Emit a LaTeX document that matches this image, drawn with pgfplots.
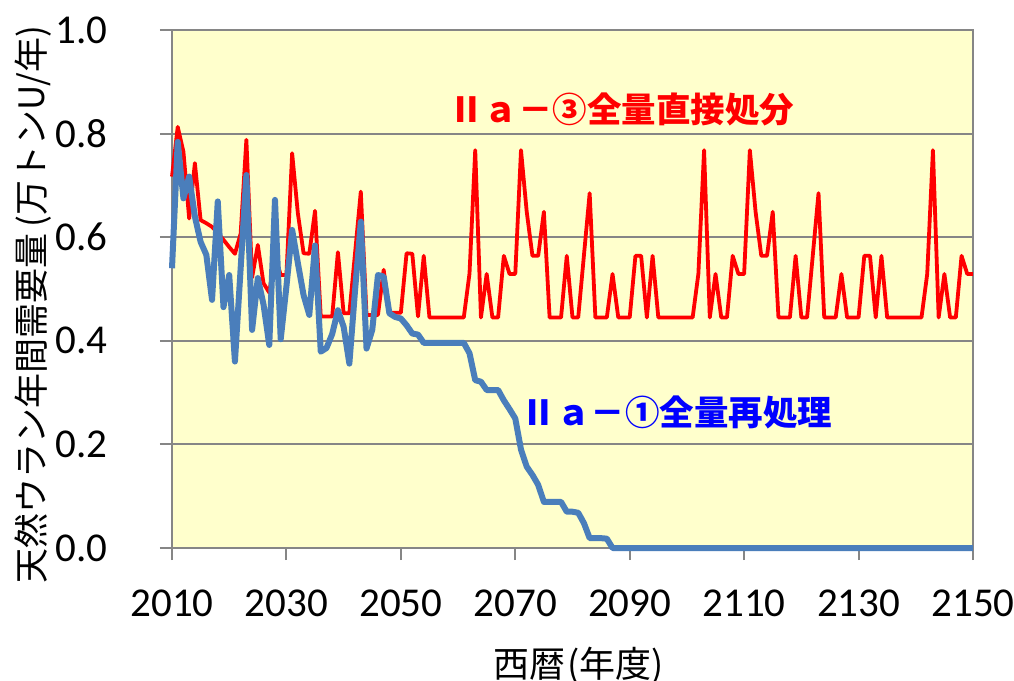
\documentclass[border=0pt]{standalone}
\usepackage{fontspec}
\setmainfont{Carlito}
\newfontfamily\cjk{Noto Sans CJK JP}
\usepackage{pgfplots}
\usepackage{pgfplotstable}
\pgfplotsset{compat=1.18}

\definecolor{bgyellow}{HTML}{FFFFCC}
\definecolor{gridgray}{HTML}{868686}
\definecolor{redline}{HTML}{FF0000}
\definecolor{blueline}{HTML}{4A7EBB}
\definecolor{bluetext}{HTML}{0000FF}

% year, direct disposal (dd), full reprocessing (rp)
\pgfplotstableread{
year dd rp
2010 0.717 0.540
2011 0.813 0.784
2012 0.765 0.675
2013 0.636 0.717
2014 0.743 0.640
2015 0.633 0.591
2016 0.627 0.566
2017 0.620 0.479
2018 0.608 0.669
2019 0.595 0.465
2020 0.581 0.527
2021 0.568 0.360
2022 0.607 0.540
2023 0.788 0.720
2024 0.522 0.421
2025 0.585 0.521
2026 0.511 0.470
2027 0.493 0.392
2028 0.565 0.672
2029 0.527 0.403
2030 0.527 0.505
2031 0.762 0.614
2032 0.646 0.550
2033 0.569 0.488
2034 0.568 0.450
2035 0.651 0.584
2036 0.447 0.379
2037 0.447 0.386
2038 0.447 0.413
2039 0.571 0.459
2040 0.453 0.427
2041 0.453 0.356
2042 0.570 0.498
2043 0.688 0.630
2044 0.450 0.385
2045 0.450 0.421
2046 0.450 0.527
2047 0.537 0.524
2048 0.454 0.453
2049 0.454 0.446
2050 0.454 0.443
2051 0.569 0.430
2052 0.568 0.414
2053 0.447 0.412
2054 0.564 0.396
2055 0.445 0.396
2056 0.445 0.396
2057 0.445 0.396
2058 0.445 0.396
2059 0.445 0.396
2060 0.445 0.396
2061 0.445 0.396
2062 0.530 0.376
2063 0.768 0.324
2064 0.445 0.321
2065 0.529 0.305
2066 0.445 0.305
2067 0.445 0.305
2068 0.564 0.285
2069 0.529 0.268
2070 0.529 0.250
2071 0.768 0.190
2072 0.649 0.157
2073 0.564 0.141
2074 0.564 0.122
2075 0.649 0.089
2076 0.445 0.089
2077 0.445 0.089
2078 0.445 0.089
2079 0.564 0.070
2080 0.445 0.070
2081 0.445 0.068
2082 0.565 0.048
2083 0.685 0.019
2084 0.445 0.019
2085 0.445 0.019
2086 0.445 0.018
2087 0.529 0.000
2088 0.445 0.000
2089 0.445 0.000
2090 0.445 0.000
2091 0.564 0.000
2092 0.564 0.000
2093 0.445 0.000
2094 0.564 0.000
2095 0.445 0.000
2096 0.445 0.000
2097 0.445 0.000
2098 0.445 0.000
2099 0.445 0.000
2100 0.445 0.000
2101 0.445 0.000
2102 0.529 0.000
2103 0.768 0.000
2104 0.445 0.000
2105 0.529 0.000
2106 0.445 0.000
2107 0.445 0.000
2108 0.564 0.000
2109 0.529 0.000
2110 0.529 0.000
2111 0.768 0.000
2112 0.649 0.000
2113 0.564 0.000
2114 0.564 0.000
2115 0.649 0.000
2116 0.445 0.000
2117 0.445 0.000
2118 0.445 0.000
2119 0.564 0.000
2120 0.445 0.000
2121 0.445 0.000
2122 0.565 0.000
2123 0.685 0.000
2124 0.445 0.000
2125 0.445 0.000
2126 0.445 0.000
2127 0.529 0.000
2128 0.445 0.000
2129 0.445 0.000
2130 0.445 0.000
2131 0.564 0.000
2132 0.564 0.000
2133 0.445 0.000
2134 0.564 0.000
2135 0.445 0.000
2136 0.445 0.000
2137 0.445 0.000
2138 0.445 0.000
2139 0.445 0.000
2140 0.445 0.000
2141 0.445 0.000
2142 0.529 0.000
2143 0.768 0.000
2144 0.445 0.000
2145 0.529 0.000
2146 0.445 0.000
2147 0.445 0.000
2148 0.564 0.000
2149 0.529 0.000
2150 0.529 0.000
}\uran

\begin{document}
\begin{tikzpicture}
\path[use as bounding box, fill=white] (-86pt,-66.5pt) rectangle (421pt,274pt);
\begin{axis}[
  scale only axis,
  width=400.5pt, height=259pt,
  xmin=2010, xmax=2150, ymin=0, ymax=1,
  xtick={2010,2030,2050,2070,2090,2110,2130,2150},
  ytick={0,0.2,0.4,0.6,0.8,1},
  xtick pos=bottom, ytick pos=left,
  tick align=outside, major tick length=6pt,
  axis line style={gridgray, line width=1pt},
  every tick/.style={gridgray, line width=1pt},
  ymajorgrids, grid style={gridgray, line width=1pt},
  axis background/.style={fill=bgyellow},
  clip=false,
  /pgf/number format/assume math mode=true,
  x tick label style={font=\fontsize{20.5}{24}\selectfont,
    /pgf/number format/1000 sep={}, anchor=north, inner sep=0pt, yshift=-14.5pt},
  y tick label style={font=\fontsize{20.5}{24}\selectfont,
    /pgf/number format/fixed, /pgf/number format/fixed zerofill,
    /pgf/number format/precision=1, anchor=east, inner sep=0pt, xshift=-26pt},
  xlabel={西暦\kern1pt(年度)},
  xlabel style={font=\cjk\fontsize{18}{22}\selectfont,
    at={(axis description cs:0.508,0)}, anchor=base, yshift=-64.5pt},
  ylabel={天然ウラン年間需要量\kern3pt(万トンU/年)},
  ylabel style={font=\cjk\fontsize{17.5}{21}\selectfont,
    at={(axis description cs:-0.174,0.47)}, anchor=center},
]
\addplot[redline, line width=1.9pt, line join=round] table[x=year, y=dd]{\uran};
\addplot[blueline, line width=3pt, line join=round] table[x=year, y=rp]{\uran};

\node[anchor=west, inner sep=0pt, text=redline,
  font=\cjk\bfseries\fontsize{17.25}{20}\selectfont]
  at (axis cs:2058.4,0.846) {Ⅱａ－③全量直接処分};
\node[anchor=west, inner sep=0pt, text=bluetext,
  font=\cjk\bfseries\fontsize{17.25}{20}\selectfont]
  at (axis cs:2071.1,0.2625) {Ⅱａ－①全量再処理};
\end{axis}
\end{tikzpicture}
\end{document}
